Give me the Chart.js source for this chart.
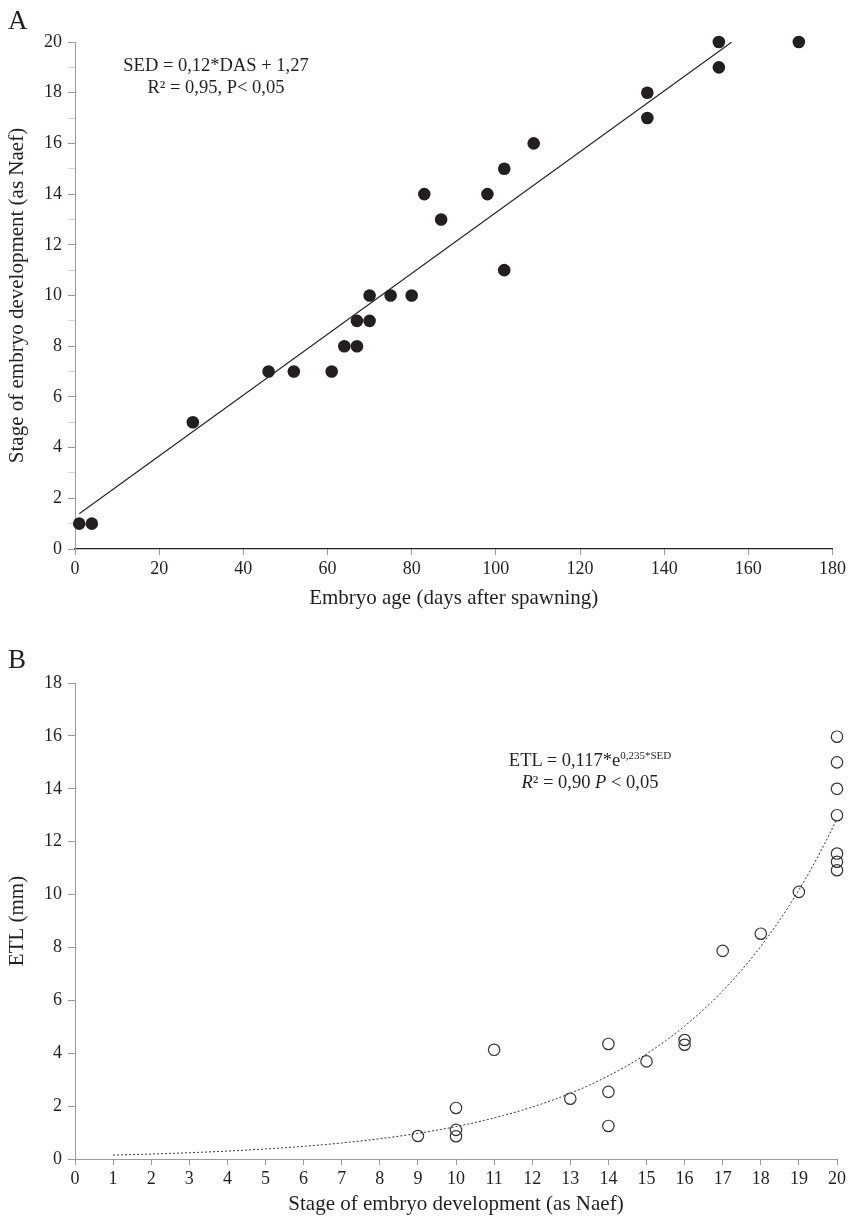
<!DOCTYPE html>
<html>
<head>
<meta charset="utf-8">
<script src="https://cdn.jsdelivr.net/npm/chart.js@4"></script>
<style>
  body { margin: 0; background: #fff; font-family: "Liberation Serif", "Times New Roman", serif; color: #231f20; }
  #wrap { position: relative; width: 849px; height: 1221px; }
  canvas { position: absolute; left: 0; }
  .lbl { position: absolute; font-size: 27px; line-height: 30px; }
  .eq { position: absolute; font-size: 18.5px; line-height: 22px; text-align: center; white-space: nowrap; }
  .eq sup { font-size: 11px; vertical-align: 7px; line-height: 0; }
</style>
</head>
<body>
<div id="wrap">
  <canvas id="chartA" width="849" height="615" style="top:0"></canvas>
  <canvas id="chartB" width="849" height="606" style="top:615px"></canvas>
  <div class="lbl" style="left:8px;top:5px">A</div>
  <div class="lbl" style="left:8px;top:644px">B</div>
  <div class="eq" style="left:96px;top:54px;width:240px">SED = 0,12*DAS + 1,27<br>R² = 0,95, P&lt; 0,05</div>
  <div class="eq" style="left:470px;top:749px;width:240px">ETL = 0,117*e<sup>0,235*SED</sup><br><i>R</i>² = 0,90 <i>P</i> &lt; 0,05</div>
</div>
<script>
// ---- panel A: stage vs embryo age ----
const ageDays = [1, 4, 28, 46, 52, 61, 64, 67, 67, 70, 70, 75, 80, 83, 87, 98, 102, 102, 109, 136, 136, 153, 153, 172];
const stageA  = [1, 1, 5, 7, 7, 7, 8, 8, 9, 9, 10, 10, 10, 14, 13, 14, 15, 11, 16, 18, 17, 20, 19, 20];
// linear fit printed on the chart, drawn between these x limits
const fitA = { slope: 0.12, intercept: 1.27, from: 1, to: 156 };

// ---- panel B: ETL vs stage ----
const stageB = [9, 10, 10, 10, 11, 13, 14, 14, 14, 15, 16, 16, 17, 18, 19, 20, 20, 20, 20, 20, 20, 20];
const etlMm  = [0.87, 1.93, 1.1, 0.86, 4.13, 2.28, 4.35, 2.54, 1.25, 3.69, 4.5, 4.32, 7.87, 8.52, 10.1, 15.97, 15.0, 14.0, 13.0, 11.55, 11.24, 10.92];
// exponential fit printed on the chart
const fitB = { a: 0.117, b: 0.235, from: 1, to: 20 };

const ticksA_x = [0, 20, 40, 60, 80, 100, 120, 140, 160, 180];

const serif = "'Liberation Serif', 'Times New Roman', serif";
const ink = "#231f20";
const axisGrey = "#9a9a9a";

function toPoints(xs, ys) {
  return xs.map((x, i) => ({ x: x, y: ys[i] }));
}

const fitLineA = [fitA.from, fitA.to].map((x) => ({ x: x, y: fitA.slope * x + fitA.intercept }));
const fitCurveB = [];
for (let x = fitB.from; x <= fitB.to + 1e-9; x += 0.25) {
  fitCurveB.push({ x: x, y: fitB.a * Math.exp(fitB.b * x) });
}

function tickFont() { return { family: serif, size: 18 }; }
function titleFont() { return { family: serif, size: 21 }; }

// ================== CHART A ==================
new Chart(document.getElementById("chartA"), {
  type: "scatter",
  data: {
    datasets: [
      {
        data: toPoints(ageDays, stageA),
        pointRadius: 6.3,
        pointHoverRadius: 6.3,
        pointBackgroundColor: ink,
        pointBorderColor: ink,
        pointBorderWidth: 0,
        clip: false,
        order: 1,
      },
      {
        data: fitLineA,
        showLine: true,
        borderColor: ink,
        borderWidth: 1.1,
        pointRadius: 0,
        clip: false,
        order: 2,
      },
    ],
  },
  options: {
    responsive: false,
    animation: false,
    layout: { padding: { left: 0, top: 42, right: 16, bottom: 0 } },
    plugins: { legend: { display: false }, tooltip: { enabled: false } },
    scales: {
      x: {
        type: "linear",
        min: 0,
        max: 180,
        afterBuildTicks: (s) => { s.ticks = ticksA_x.map((v) => ({ value: v })); },
        afterFit: (s) => { s.height = 66; },
        ticks: { font: tickFont(), color: ink, padding: 3, maxRotation: 0 },
        grid: { drawOnChartArea: false, drawTicks: true, tickLength: 6, color: axisGrey },
        border: { display: true, color: "#222", width: 1.2 },
        title: { display: true, text: "Embryo age (days after spawning)", font: titleFont(), color: ink, padding: { top: 0, bottom: 4 } },
      },
      y: {
        min: 0,
        max: 20,
        afterFit: (s) => { s.width = 75; },
        ticks: {
          stepSize: 1,
          autoSkip: false,
          font: tickFont(),
          color: ink,
          padding: 6,
          callback: (v) => (v % 2 === 0 ? v : ""),
        },
        grid: {
          drawOnChartArea: false,
          drawTicks: true,
          tickLength: 7,
          color: (c) => (c.tick && c.tick.value % 2 !== 0 ? "#d4d4d4" : axisGrey),
        },
        border: { display: true, color: axisGrey, width: 1 },
        title: { display: true, text: "Stage of embryo development (as Naef)", font: titleFont(), color: ink, padding: { top: 5, bottom: 0 } },
      },
    },
  },
});

// ================== CHART B ==================
new Chart(document.getElementById("chartB"), {
  type: "scatter",
  data: {
    datasets: [
      {
        data: toPoints(stageB, etlMm),
        pointRadius: 5.7,
        pointHoverRadius: 5.7,
        pointBackgroundColor: "rgba(255,255,255,0)",
        pointBorderColor: "#333",
        pointBorderWidth: 1.2,
        clip: false,
        order: 1,
      },
      {
        data: fitCurveB,
        showLine: true,
        borderColor: "#333",
        borderWidth: 1,
        borderDash: [2, 2],
        pointRadius: 0,
        tension: 0,
        clip: false,
        order: 2,
      },
    ],
  },
  options: {
    responsive: false,
    animation: false,
    layout: { padding: { left: 0, top: 68, right: 11, bottom: 0 } },
    plugins: { legend: { display: false }, tooltip: { enabled: false } },
    scales: {
      x: {
        type: "linear",
        min: 0,
        max: 20,
        afterFit: (s) => { s.height = 62; },
        ticks: { stepSize: 1, autoSkip: false, font: tickFont(), color: ink, padding: 3, maxRotation: 0 },
        grid: { drawOnChartArea: false, drawTicks: true, tickLength: 6, color: axisGrey },
        border: { display: true, color: axisGrey, width: 1 },
        title: { display: true, text: "Stage of embryo development (as Naef)", font: titleFont(), color: ink, padding: { top: 0, bottom: 4 } },
      },
      y: {
        min: 0,
        max: 18,
        afterFit: (s) => { s.width = 75; },
        ticks: { stepSize: 2, autoSkip: false, font: tickFont(), color: ink, padding: 6 },
        grid: { drawOnChartArea: false, drawTicks: true, tickLength: 7, color: axisGrey },
        border: { display: true, color: axisGrey, width: 1 },
        title: { display: true, text: "ETL (mm)", font: titleFont(), color: ink, padding: { top: 5, bottom: 0 } },
      },
    },
  },
});
</script>
</body>
</html>
